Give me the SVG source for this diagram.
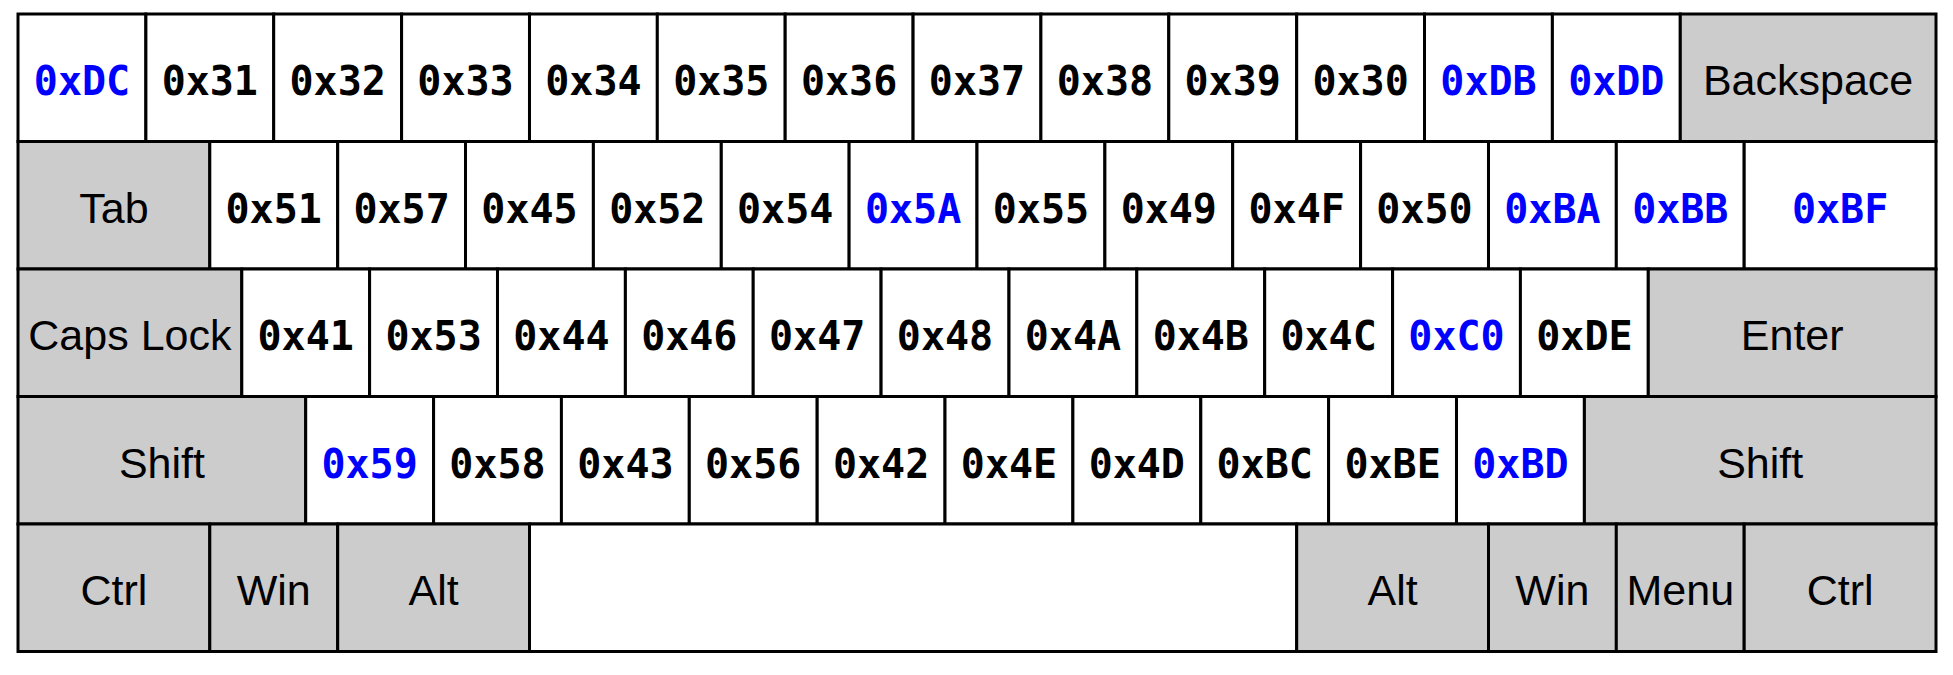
<svg xmlns="http://www.w3.org/2000/svg" width="1953" height="675" viewBox="0 0 1953 675">
<style>
rect{fill:#fff;stroke:#000;stroke-width:3}
rect.g{fill:#ccc}
text{text-anchor:middle}
.h{font-family:"DejaVu Sans Mono",monospace;font-size:40px;font-weight:bold;fill:#000}
.b{fill:#00f}
.n{font-family:"Liberation Sans",Arial,sans-serif;font-size:43px;fill:#000}
</style>
<rect x="0" y="0" width="1953" height="675" style="fill:#fff;stroke:none"/>
<g id="row1">
<g id="key-0xDC"><rect x="18" y="14" width="127.87" height="127.5"/><text class="h b" x="82" y="95">0xDC</text></g>
<g id="key-0x31"><rect x="145.9" y="14" width="127.87" height="127.5"/><text class="h" x="209.8" y="95">0x31</text></g>
<g id="key-0x32"><rect x="273.7" y="14" width="127.87" height="127.5"/><text class="h" x="337.7" y="95">0x32</text></g>
<g id="key-0x33"><rect x="401.6" y="14" width="127.87" height="127.5"/><text class="h" x="465.5" y="95">0x33</text></g>
<g id="key-0x34"><rect x="529.5" y="14" width="127.87" height="127.5"/><text class="h" x="593.4" y="95">0x34</text></g>
<g id="key-0x35"><rect x="657.3" y="14" width="127.87" height="127.5"/><text class="h" x="721.3" y="95">0x35</text></g>
<g id="key-0x36"><rect x="785.2" y="14" width="127.87" height="127.5"/><text class="h" x="849.1" y="95">0x36</text></g>
<g id="key-0x37"><rect x="913.1" y="14" width="127.87" height="127.5"/><text class="h" x="977" y="95">0x37</text></g>
<g id="key-0x38"><rect x="1040.9" y="14" width="127.87" height="127.5"/><text class="h" x="1104.9" y="95">0x38</text></g>
<g id="key-0x39"><rect x="1168.8" y="14" width="127.87" height="127.5"/><text class="h" x="1232.7" y="95">0x39</text></g>
<g id="key-0x30"><rect x="1296.7" y="14" width="127.87" height="127.5"/><text class="h" x="1360.6" y="95">0x30</text></g>
<g id="key-0xDB"><rect x="1424.5" y="14" width="127.87" height="127.5"/><text class="h b" x="1488.5" y="95">0xDB</text></g>
<g id="key-0xDD"><rect x="1552.4" y="14" width="127.87" height="127.5"/><text class="h b" x="1616.3" y="95">0xDD</text></g>
<g id="key-backspace"><rect class="g" x="1680.3" y="14" width="255.7" height="127.5"/><text class="n" x="1808.1" y="95">Backspace</text></g>
</g>
<g id="row2">
<g id="key-tab"><rect class="g" x="18" y="141.5" width="191.8" height="127.5"/><text class="n" x="113.9" y="222.5">Tab</text></g>
<g id="key-0x51"><rect x="209.8" y="141.5" width="127.87" height="127.5"/><text class="h" x="273.7" y="222.5">0x51</text></g>
<g id="key-0x57"><rect x="337.7" y="141.5" width="127.87" height="127.5"/><text class="h" x="401.6" y="222.5">0x57</text></g>
<g id="key-0x45"><rect x="465.5" y="141.5" width="127.87" height="127.5"/><text class="h" x="529.5" y="222.5">0x45</text></g>
<g id="key-0x52"><rect x="593.4" y="141.5" width="127.87" height="127.5"/><text class="h" x="657.3" y="222.5">0x52</text></g>
<g id="key-0x54"><rect x="721.3" y="141.5" width="127.87" height="127.5"/><text class="h" x="785.2" y="222.5">0x54</text></g>
<g id="key-0x5A"><rect x="849.1" y="141.5" width="127.87" height="127.5"/><text class="h b" x="913.1" y="222.5">0x5A</text></g>
<g id="key-0x55"><rect x="977" y="141.5" width="127.87" height="127.5"/><text class="h" x="1040.9" y="222.5">0x55</text></g>
<g id="key-0x49"><rect x="1104.9" y="141.5" width="127.87" height="127.5"/><text class="h" x="1168.8" y="222.5">0x49</text></g>
<g id="key-0x4F"><rect x="1232.7" y="141.5" width="127.87" height="127.5"/><text class="h" x="1296.7" y="222.5">0x4F</text></g>
<g id="key-0x50"><rect x="1360.6" y="141.5" width="127.87" height="127.5"/><text class="h" x="1424.5" y="222.5">0x50</text></g>
<g id="key-0xBA"><rect x="1488.5" y="141.5" width="127.87" height="127.5"/><text class="h b" x="1552.4" y="222.5">0xBA</text></g>
<g id="key-0xBB"><rect x="1616.3" y="141.5" width="127.87" height="127.5"/><text class="h b" x="1680.3" y="222.5">0xBB</text></g>
<g id="key-0xBF"><rect x="1744.2" y="141.5" width="191.8" height="127.5"/><text class="h b" x="1840.1" y="222.5">0xBF</text></g>
</g>
<g id="row3">
<g id="key-capslock"><rect class="g" x="18" y="269" width="223.77" height="127.5"/><text class="n" x="129.9" y="350">Caps Lock</text></g>
<g id="key-0x41"><rect x="241.8" y="269" width="127.87" height="127.5"/><text class="h" x="305.7" y="350">0x41</text></g>
<g id="key-0x53"><rect x="369.6" y="269" width="127.87" height="127.5"/><text class="h" x="433.6" y="350">0x53</text></g>
<g id="key-0x44"><rect x="497.5" y="269" width="127.87" height="127.5"/><text class="h" x="561.4" y="350">0x44</text></g>
<g id="key-0x46"><rect x="625.4" y="269" width="127.87" height="127.5"/><text class="h" x="689.3" y="350">0x46</text></g>
<g id="key-0x47"><rect x="753.2" y="269" width="127.87" height="127.5"/><text class="h" x="817.2" y="350">0x47</text></g>
<g id="key-0x48"><rect x="881.1" y="269" width="127.87" height="127.5"/><text class="h" x="945" y="350">0x48</text></g>
<g id="key-0x4A"><rect x="1009" y="269" width="127.87" height="127.5"/><text class="h" x="1072.9" y="350">0x4A</text></g>
<g id="key-0x4B"><rect x="1136.8" y="269" width="127.87" height="127.5"/><text class="h" x="1200.8" y="350">0x4B</text></g>
<g id="key-0x4C"><rect x="1264.7" y="269" width="127.87" height="127.5"/><text class="h" x="1328.6" y="350">0x4C</text></g>
<g id="key-0xC0"><rect x="1392.6" y="269" width="127.87" height="127.5"/><text class="h b" x="1456.5" y="350">0xC0</text></g>
<g id="key-0xDE"><rect x="1520.4" y="269" width="127.87" height="127.5"/><text class="h" x="1584.4" y="350">0xDE</text></g>
<g id="key-enter"><rect class="g" x="1648.3" y="269" width="287.7" height="127.5"/><text class="n" x="1792.2" y="350">Enter</text></g>
</g>
<g id="row4">
<g id="key-lshift"><rect class="g" x="18" y="396.5" width="287.7" height="127.5"/><text class="n" x="161.9" y="477.5">Shift</text></g>
<g id="key-0x59"><rect x="305.7" y="396.5" width="127.87" height="127.5"/><text class="h b" x="369.6" y="477.5">0x59</text></g>
<g id="key-0x58"><rect x="433.6" y="396.5" width="127.87" height="127.5"/><text class="h" x="497.5" y="477.5">0x58</text></g>
<g id="key-0x43"><rect x="561.4" y="396.5" width="127.87" height="127.5"/><text class="h" x="625.4" y="477.5">0x43</text></g>
<g id="key-0x56"><rect x="689.3" y="396.5" width="127.87" height="127.5"/><text class="h" x="753.2" y="477.5">0x56</text></g>
<g id="key-0x42"><rect x="817.2" y="396.5" width="127.87" height="127.5"/><text class="h" x="881.1" y="477.5">0x42</text></g>
<g id="key-0x4E"><rect x="945" y="396.5" width="127.87" height="127.5"/><text class="h" x="1009" y="477.5">0x4E</text></g>
<g id="key-0x4D"><rect x="1072.9" y="396.5" width="127.87" height="127.5"/><text class="h" x="1136.8" y="477.5">0x4D</text></g>
<g id="key-0xBC"><rect x="1200.8" y="396.5" width="127.87" height="127.5"/><text class="h" x="1264.7" y="477.5">0xBC</text></g>
<g id="key-0xBE"><rect x="1328.6" y="396.5" width="127.87" height="127.5"/><text class="h" x="1392.6" y="477.5">0xBE</text></g>
<g id="key-0xBD"><rect x="1456.5" y="396.5" width="127.87" height="127.5"/><text class="h b" x="1520.4" y="477.5">0xBD</text></g>
<g id="key-rshift"><rect class="g" x="1584.4" y="396.5" width="351.6" height="127.5"/><text class="n" x="1760.2" y="477.5">Shift</text></g>
</g>
<g id="row5">
<g id="key-lctrl"><rect class="g" x="18" y="524" width="191.8" height="127.5"/><text class="n" x="113.9" y="605">Ctrl</text></g>
<g id="key-lwin"><rect class="g" x="209.8" y="524" width="127.87" height="127.5"/><text class="n" x="273.7" y="605">Win</text></g>
<g id="key-lalt"><rect class="g" x="337.7" y="524" width="191.8" height="127.5"/><text class="n" x="433.6" y="605">Alt</text></g>
<g id="key-space"><rect x="529.5" y="524" width="767.2" height="127.5"/></g>
<g id="key-ralt"><rect class="g" x="1296.7" y="524" width="191.8" height="127.5"/><text class="n" x="1392.6" y="605">Alt</text></g>
<g id="key-rwin"><rect class="g" x="1488.5" y="524" width="127.87" height="127.5"/><text class="n" x="1552.4" y="605">Win</text></g>
<g id="key-menu"><rect class="g" x="1616.3" y="524" width="127.87" height="127.5"/><text class="n" x="1680.3" y="605">Menu</text></g>
<g id="key-rctrl"><rect class="g" x="1744.2" y="524" width="191.8" height="127.5"/><text class="n" x="1840.1" y="605">Ctrl</text></g>
</g>
</svg>
